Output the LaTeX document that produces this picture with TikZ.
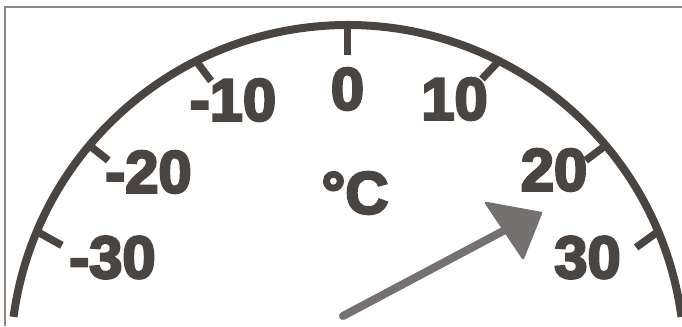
\documentclass[tikz,border=0pt]{standalone}
\usepackage{fontspec}
\newfontfamily\dialfont[FakeBold=4]{Liberation Sans Bold}
\definecolor{ink}{HTML}{4B4542}
\definecolor{needle}{HTML}{747170}
\definecolor{framec}{HTML}{8E8884}
\tikzset{
  dialarc/.style={draw=ink, line width=0.16cm},
  tick/.style={draw=ink, line width=0.15cm},
  lbl/.style={text=ink, inner sep=0pt, font=\dialfont\fontsize{34}{34}\selectfont},
  needleshaft/.style={draw=needle, line width=0.16cm, line cap=round},
  needlehead/.style={fill=needle, draw=needle, line width=0.05cm, line join=round},
  framel/.style={draw=framec, line width=0.035cm}
}
\begin{document}
\begin{tikzpicture}[x=0.02cm, y=0.02cm]
\useasboundingbox (0,0) rectangle (682,326);
% frame
\coordinate (f1) at (5,0);
\coordinate (f2) at (5,319);
\coordinate (f3) at (682,319);
\draw[framel] (f1) -- (f2) -- (f3);
% dial
\coordinate (C) at (347.5,-36);
\draw[dialarc] ([shift={(7.7:337)}]C) arc[start angle=7.7, end angle=172.3, radius=337];
% ticks
\draw[tick] ([shift={(90:337)}]C) -- ++(0,-30);
\draw[tick] ([shift={(63.3:337)}]C) -- ++(-17,-18);
\draw[tick] ([shift={(116.7:337)}]C) -- ++(15,-20);
\draw[tick] ([shift={(40:337)}]C) -- ++(-20,-15);
\draw[tick] ([shift={(140:337)}]C) -- ++(19,-15);
\draw[tick] ([shift={(22.8:337)}]C) -- ++(-22,-16);
\draw[tick] ([shift={(157.2:337)}]C) -- ++(25,-14);
% labels
\node[lbl] (l0) at (347.5,237) {0};
\node[lbl] (lm10) at (233,226) {-10};
\node[lbl] (l10) at (454.5,227) {10};
\node[lbl] (lm20) at (148.5,154) {-20};
\node[lbl] (l20) at (554,156) {20};
\node[lbl] (lm30) at (112.5,68.5) {-30};
\node[lbl] (l30) at (587.5,68.5) {30};
\node[lbl] (unit) at (355,133) {°C};
% needle
\coordinate (tail) at (343,10);
\coordinate (base) at (505,96);
\coordinate (h1) at (486,123);
\coordinate (h2) at (541,113);
\coordinate (h3) at (523,68);
\draw[needleshaft] (tail) -- (base);
\filldraw[needlehead] (h1) -- (h2) -- (h3) -- cycle;
\end{tikzpicture}
\end{document}
